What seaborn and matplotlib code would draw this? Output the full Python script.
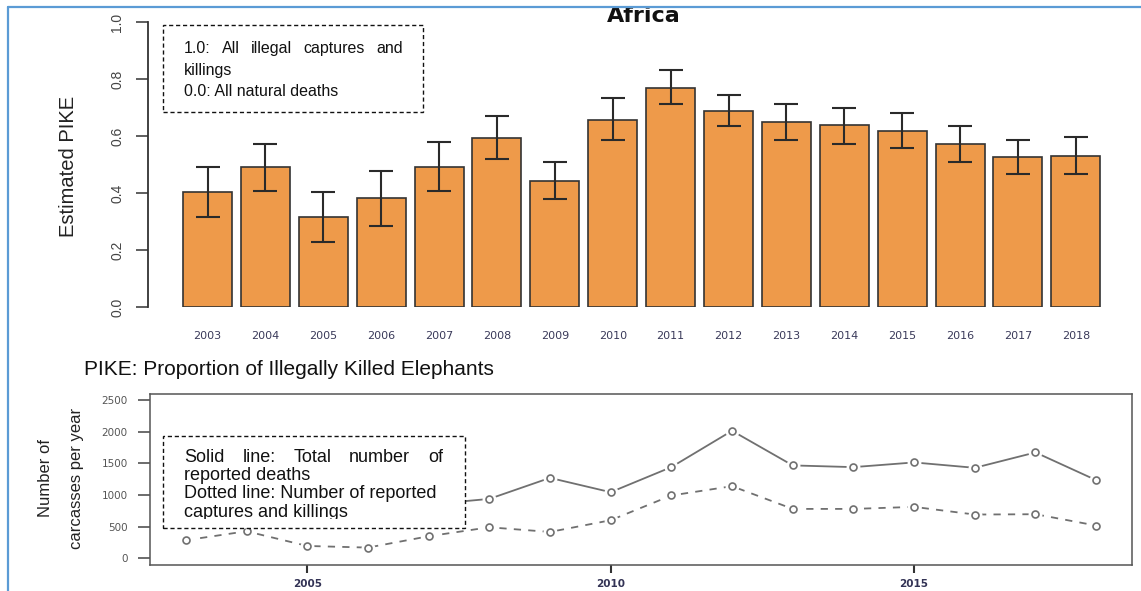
import matplotlib
matplotlib.use("Agg")
import matplotlib.pyplot as plt
import seaborn as sns
import numpy as np
import pandas as pd
from matplotlib.patches import Rectangle
from matplotlib.lines import Line2D
from matplotlib.transforms import Bbox, TransformedBbox
from matplotlib import font_manager

# ---------------- data ----------------
years = [2003, 2004, 2005, 2006, 2007, 2008, 2009, 2010,
         2011, 2012, 2013, 2014, 2015, 2016, 2017, 2018]
pike = [0.403, 0.490, 0.315, 0.382, 0.490, 0.593, 0.442, 0.656,
        0.768, 0.688, 0.649, 0.637, 0.618, 0.571, 0.525, 0.531]
pike_lo = [0.315, 0.407, 0.228, 0.285, 0.407, 0.520, 0.380, 0.586,
           0.712, 0.635, 0.586, 0.573, 0.559, 0.510, 0.466, 0.466]
pike_hi = [0.490, 0.572, 0.403, 0.477, 0.579, 0.670, 0.510, 0.733,
           0.832, 0.744, 0.712, 0.699, 0.679, 0.636, 0.585, 0.598]
total_carcasses = [700, 900, 600, 550, 850, 938, 1270, 1044,
                   1440, 2014, 1467, 1440, 1514, 1429, 1672, 1234]
illegal_carcasses = [285, 427, 195, 169, 348, 490, 416, 601,
                     992, 1139, 780, 780, 812, 691, 696, 517]
pike_ticks = [0.0, 0.2, 0.4, 0.6, 0.8, 1.0]
count_ticks = [0, 500, 1000, 1500, 2000, 2500]
line_xticks = [2005, 2010, 2015]

title = "Africa"
pike_label = "Estimated PIKE"
count_label_1 = "Number of"
count_label_2 = "carcasses per year"
caption = "PIKE: Proportion of Illegally Killed Elephants"
box1_line1 = ["1.0:", "All", "illegal", "captures", "and"]
box1_rest = ["killings", "0.0: All natural deaths"]
box2_line1 = ["Solid", "line:", "Total", "number", "of"]
box2_rest = ["reported deaths", "Dotted line: Number of reported", "captures and killings"]

# ---------------- style ----------------
sns.set_theme(style="white")
plt.rcParams['font.family'] = ['DejaVu Sans']
names = {f.name for f in font_manager.fontManager.ttflist}
NARROW = 'Liberation Sans Narrow' if 'Liberation Sans Narrow' in names else 'Liberation Sans'
ARIAL = 'Liberation Sans'

W, H = 1141, 591
fig = plt.figure(figsize=(W / 100, H / 100), dpi=100)
fig.patch.set_facecolor('white')


def fx(px):
    return px / W


def fy(py):
    return 1 - py / H


ORANGE = '#EE9A4A'
EDGE = '#333333'

# ---------------- top: bar chart ----------------
ax1 = fig.add_axes([fx(148), fy(307), fx(1110) - fx(148), fy(22) - fy(307)])
df = pd.DataFrame({'year': [str(y) for y in years], 'pike': pike})
sns.barplot(data=df, x='year', y='pike', color=ORANGE, saturation=1,
            width=0.846, edgecolor=EDGE, linewidth=1.2, errorbar=None, ax=ax1)
p = np.array(pike)
ax1.errorbar(np.arange(len(years)), p,
             yerr=[p - np.array(pike_lo), np.array(pike_hi) - p],
             fmt='none', ecolor='#2a2a2a', elinewidth=1.5, capsize=8.5,
             capthick=1.5, zorder=3)
ax1.set_xlim(-1.028, 15.59)
ax1.set_ylim(0, 1.0)
ax1.set_yticks(pike_ticks)
ax1.set_yticklabels([f"{t:.1f}" for t in pike_ticks], family=NARROW,
                    fontsize=10, color='#444444', rotation=90, va='center')
ax1.tick_params(axis='y', left=True, length=9, width=1.1, color='#333333', pad=8)
ax1.tick_params(axis='x', length=0, pad=17, labelsize=8, labelcolor='#3a3a5a')
for s in ['top', 'right', 'bottom']:
    ax1.spines[s].set_visible(False)
ax1.spines['left'].set_color('#333333')
ax1.spines['left'].set_linewidth(1.3)
ax1.set_xlabel('')
ax1.set_ylabel('')
ax1.set_facecolor('none')

fig.text(fx(644), fy(22), title, ha='center', va='baseline', fontsize=16,
         fontweight='bold', color='#111111')
fig.text(fx(68), fy(166), pike_label, rotation=90, ha='center', va='center',
         family=NARROW, fontsize=14.5, color='#222222')

# ---------------- bottom: line chart ----------------
ax2 = fig.add_axes([fx(150), fy(565), fx(1132) - fx(150), fy(394) - fy(565)])
GREY = '#707070'
sns.lineplot(x=years, y=total_carcasses, ax=ax2, color=GREY, linewidth=1.3)
sns.lineplot(x=years, y=illegal_carcasses, ax=ax2, color=GREY, linewidth=1.3,
             linestyle=(0, (4, 4)))
for series in (total_carcasses, illegal_carcasses):
    ax2.plot(years, series, 'o', ms=9, color='white', zorder=3)
    ax2.plot(years, series, 'o', ms=5, mfc='white', mec=GREY, mew=1.2, zorder=4)
ax2.set_xlim(2002.41, 2018.59)
ax2.set_ylim(-106, 2595)
ax2.set_yticks(count_ticks)
ax2.set_yticklabels([str(t) for t in count_ticks], fontsize=7.5, color='#555555')
ax2.set_xticks(line_xticks)
ax2.set_xticklabels([str(t) for t in line_xticks], fontsize=7.5,
                    color='#333355', fontweight='bold')
ax2.tick_params(axis='y', left=True, length=9, width=1.1, color='#444444', pad=7)
ax2.tick_params(axis='x', bottom=True, length=6, width=1.5, color='#333333', pad=4)
for s in ax2.spines.values():
    s.set_visible(True)
    s.set_color('#555555')
    s.set_linewidth(1.1)
ax2.set_xlabel('')
ax2.set_ylabel('')
ax2.grid(False)

fig.text(fx(45), fy(478), count_label_1, rotation=90, ha='center', va='center',
         family=NARROW, fontsize=12, color='#222222')
fig.text(fx(76), fy(478), count_label_2, rotation=90, ha='center', va='center',
         family=NARROW, fontsize=12, color='#222222')

fig.text(fx(84), fy(375), caption, ha='left', va='baseline', family=ARIAL,
         fontsize=15, color='#111111')

# ---------------- annotation boxes ----------------
def box(x0, y0, x1, y1):
    r = Rectangle((fx(x0), fy(y1)), fx(x1) - fx(x0), fy(y0) - fy(y1),
                  transform=fig.transFigure, facecolor='white', edgecolor='#111111',
                  linewidth=1.0, linestyle=(0, (3, 2)), zorder=5)
    fig.add_artist(r)


renderer = fig.canvas.get_renderer()


def justified(words, x0, x1, yb, size):
    texts = [fig.text(0, fy(yb), w, fontsize=size, family=ARIAL, va='baseline',
                      ha='left', zorder=7, color='#111111') for w in words]
    widths = [t.get_window_extent(renderer).width for t in texts]
    gap = (x1 - x0 - sum(widths)) / (len(words) - 1)
    x = x0
    for t, w in zip(texts, widths):
        t.set_x(fx(x))
        x += w + gap


box(163, 25, 423, 112)
justified(box1_line1, 184, 403, 53, 11.5)
for i, line in enumerate(box1_rest):
    fig.text(fx(184), fy(74.5 + 21.5 * i), line, fontsize=11.5, family=ARIAL,
             va='baseline', ha='left', zorder=7, color='#111111')

box(163, 436, 465, 528)
justified(box2_line1, 184, 443, 462, 13)
clip = TransformedBbox(Bbox.from_extents(fx(160), fy(519), fx(470), fy(430)),
                       fig.transFigure)
for i, line in enumerate(box2_rest):
    t = fig.text(fx(184), fy(480 + 18.5 * i), line, fontsize=13, family=ARIAL,
                 va='baseline', ha='left', zorder=7, color='#111111')
    t.set_clip_box(clip)
    t.set_clip_on(True)

# ---------------- blue frame ----------------
fig.add_artist(Line2D([fx(8), 1], [fy(7), fy(7)], transform=fig.transFigure,
                      color='#5B9BD5', linewidth=1.6, zorder=10))
fig.add_artist(Line2D([fx(8), fx(8)], [fy(7), 0], transform=fig.transFigure,
                      color='#5B9BD5', linewidth=1.6, zorder=10))

fig.savefig('out.png', dpi=100)
